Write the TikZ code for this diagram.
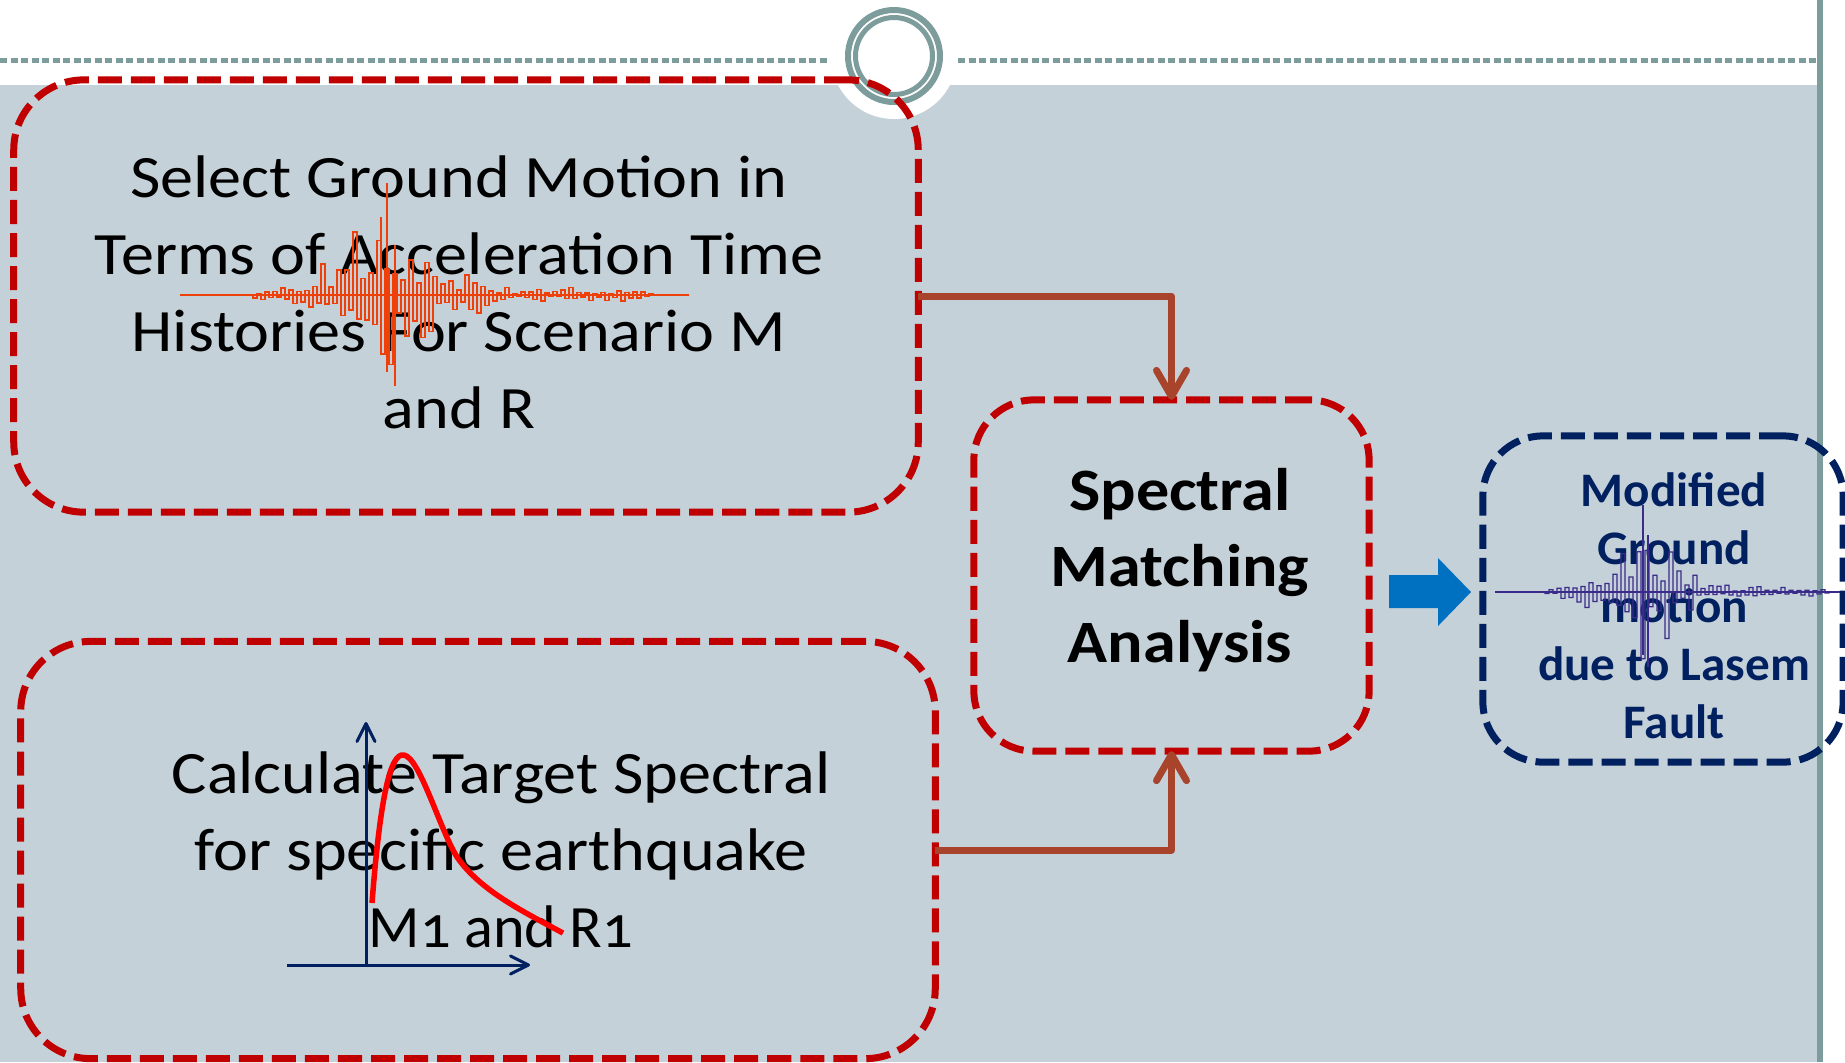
\documentclass[tikz,border=0pt]{standalone}
\usepackage{fontspec}
\setmainfont{Carlito}
\usetikzlibrary{arrows.meta}
\definecolor{slidegrey}{HTML}{C5D1D8}
\definecolor{ringgrey}{HTML}{7D9C9C}
\definecolor{boxred}{HTML}{C00000}
\definecolor{linkbrown}{HTML}{A8442C}
\definecolor{navy}{HTML}{002060}
\definecolor{flowblue}{HTML}{0070C0}
\definecolor{seisorange}{HTML}{F0400A}
\definecolor{seispurple}{HTML}{3A2A8A}
\definecolor{curvered}{HTML}{FF0000}
% builds a step trace: #1 macro name, #2 first x, #3 step, #4 count, #5 base y, #6 peak x, #7 spread, #8 peak amplitude, #9 floor amplitude
\newcommand\buildtrace[9]{%
  \gdef#1{}%
  \foreach \sidx in {0,...,#4}{%
    \pgfmathsetmacro\xq{#2+#3*\sidx}%
    \pgfmathsetmacro\xr{\xq+#3}%
    \pgfmathsetmacro\yq{#5+(#9+#8*exp(-min(((\xq-#6)/#7)^2,9)))*(0.15+0.85*rnd*rnd)*ifthenelse(mod(\sidx,2)==0,1,-1)}%
    \xdef#1{#1 -- (\xq,\yq) -- (\xr,\yq)}%
  }%
}
\begin{document}
\begin{tikzpicture}[x=0.01cm,y=-0.01cm,
  dashbox/.style={line width=0.7mm, dash pattern=on 2.4mm off 0.9mm,
    rounded corners=0.7cm, inner sep=0pt, outer sep=0pt},
  redbox/.style={dashbox, draw=boxred},
  navybox/.style={dashbox, draw=navy, rounded corners=0.6cm},
  bodytext/.style={align=center, font=\fontsize{17.1}{21.9}\selectfont\addfontfeature{FakeStretch=1.1}},
  boldtext/.style={align=center, font=\fontsize{17.1}{21.7}\selectfont\bfseries\addfontfeature{FakeStretch=1.1}},
  smalltext/.style={align=center, text=navy, font=\fontsize{13.7}{16.5}\selectfont\bfseries\addfontfeature{FakeStretch=1.02}},
  link/.style={draw=linkbrown, line width=0.7mm, line join=round,
    -{Straight Barb[round, length=0.26cm, width=0.30cm]}},
  axis/.style={draw=navy, line width=0.3mm,
    -{Straight Barb[round, length=0.18cm, width=0.18cm]}},
]
\useasboundingbox (0,0) rectangle (1845,1062);

% slide background and title ornament
\fill[slidegrey] (0,85) rectangle (1820,1062);
\fill[white] (894,56) circle[radius=63];
\draw[ringgrey, line width=0.5mm, dash pattern=on 0.07cm off 0.035cm] (0,60) -- (830,60);
\draw[ringgrey, line width=0.5mm, dash pattern=on 0.07cm off 0.035cm] (958,60) -- (1820,60);
\draw[ringgrey, line width=0.6mm] (894,56) circle[radius=46];
\draw[ringgrey, line width=0.5mm] (894,56) circle[radius=38.5];
\draw[ringgrey, line width=0.6mm] (1820,0) -- (1820,1062);

% process boxes
\node[redbox, minimum width=9.04cm, minimum height=4.32cm] (select) at (466,296) {};
\node[redbox, minimum width=9.14cm, minimum height=4.17cm] (target) at (478,850) {};
\node[redbox, minimum width=3.95cm, minimum height=3.51cm, rounded corners=0.6cm] (match) at (1171.5,575.5) {};
\node[navybox, minimum width=3.60cm, minimum height=3.26cm] (result) at (1663,599) {};

% box texts
\node[bodytext] (selecttext) at (459,292) {Select Ground Motion in\\Terms of Acceleration Time\\Histories For Scenario M\\and R};
\node[bodytext] (targettext) at (501,850) {Calculate Target Spectral\\for specific earthquake\\{\addfontfeature{Numbers=OldStyle, FakeStretch=1.0}M1 and R1}};
\node[boldtext] (matchtext) at (1180,570) {Spectral\\Matching\\Analysis};
\node[smalltext] (resulttext) at (1674,606) {Modified\\Ground\\motion\\due to Lasem\\Fault};

% connectors
\draw[link] (select.east) -| (match.north);
\draw[link] (target.east) -| (match.south);
\fill[flowblue] (1389,575) -- (1438,575) -- (1438,558) -- (1471,592)
  -- (1438,626) -- (1438,608) -- (1389,608) -- cycle;

% acceleration record
\pgfmathsetseed{4242}
\buildtrace{\accelpath}{253}{4}{99}{295}{385}{62}{95}{9}
\draw[seisorange, line width=0.45pt] (180,295) -- (689,295);
\draw[seisorange, line width=0.45pt] (253,295) \accelpath -- (653,295);
\draw[seisorange, line width=0.5pt] (387,183) -- (387,372);
\draw[seisorange, line width=0.5pt] (395,245) -- (395,386);
\draw[seisorange, line width=0.5pt] (381,217) -- (381,352);

% modified record
\buildtrace{\modpath}{1545}{4}{70}{592}{1640}{42}{85}{6}
\draw[seispurple, line width=0.35pt] (1495,592) -- (1840,592);
\draw[seispurple, line width=0.35pt] (1545,592) \modpath -- (1830,592);
\draw[seispurple, line width=0.4pt] (1643,505) -- (1643,655);
\draw[seispurple, line width=0.4pt] (1648,535) -- (1648,667);

% target spectrum sketch
\draw[axis] (366,965) -- (366,722);
\draw[axis] (287,965) -- (530,965);
\draw[curvered, line width=0.55mm, line cap=butt]
  (372,903) .. controls (380,800) and (390,752) .. (404,755)
  .. controls (420,758) and (440,830) .. (457,857)
  .. controls (480,890) and (520,910) .. (563,933);
\end{tikzpicture}
\end{document}
